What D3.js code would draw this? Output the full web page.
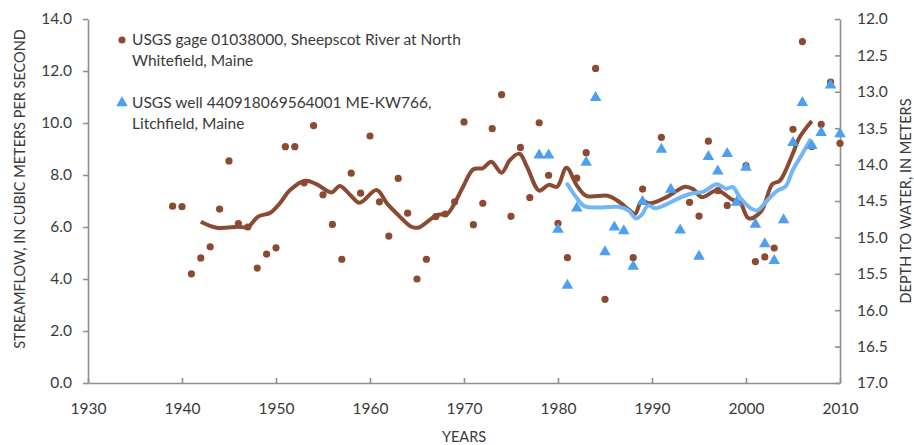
<!DOCTYPE html>
<html>
  <head>
    <script src="https://d3js.org/d3.v7.min.js"></script>
    <style>
      body { margin: 0; background: #fff; }
      text { font-family: Lato, "Open Sans", sans-serif; fill: #3a3a3a; }
      .axis path, .axis line { fill: none; stroke: #8f8f8f; stroke-width: 1.6px; }
      .axis text { font-size: 15.5px; }
      .title { font-size: 14.5px; }
      .legend { font-size: 15.5px; }
    </style>
  </head>
  <body>
    <script>
      // streamflow, USGS gage 01038000 (annual mean, m3/s)
      var flowYears = [1939, 1940, 1941, 1942, 1943, 1944, 1945, 1946, 1947, 1948, 1949, 1950,
        1951, 1952, 1953, 1954, 1955, 1956, 1957, 1958, 1959, 1960, 1961, 1962, 1963, 1964,
        1965, 1966, 1967, 1968, 1969, 1970, 1971, 1972, 1973, 1974, 1975, 1976, 1977, 1978,
        1979, 1980, 1981, 1982, 1983, 1984, 1985, 1988, 1989, 1991, 1994, 1995, 1996, 1997,
        1998, 2000, 2001, 2002, 2003, 2005, 2006, 2007, 2008, 2009, 2010];
      var flowValues = [6.8, 6.78, 4.2, 4.81, 5.24, 6.69, 8.54, 6.13, 6.0, 4.42, 4.96, 5.2,
        9.09, 9.09, 7.7, 9.9, 7.24, 6.1, 4.76, 8.07, 7.3, 9.5, 6.97, 5.65, 7.87, 6.53,
        4.0, 4.76, 6.4, 6.5, 6.97, 10.04, 6.09, 6.91, 9.78, 11.09, 6.41, 9.06, 7.13, 10.01,
        7.99, 6.14, 4.82, 7.88, 8.86, 12.1, 3.22, 4.82, 7.46, 9.45, 6.95, 6.42, 9.3, 7.4,
        6.83, 8.36, 4.67, 4.85, 5.19, 9.76, 13.13, 9.1, 9.95, 11.57, 9.22];

      // depth to water, USGS well 440918069564001 (m)
      var wellYears = [1978, 1979, 1980, 1981, 1982, 1983, 1984, 1985, 1986, 1987, 1988, 1989,
        1991, 1992, 1993, 1995, 1996, 1997, 1998, 1999, 2000, 2001, 2002, 2003, 2004, 2005,
        2006, 2007, 2008, 2009, 2010];
      var wellValues = [13.87, 13.87, 14.89, 15.66, 14.6, 13.97, 13.08, 15.2, 14.86, 14.91, 15.4, 14.51,
        13.79, 14.34, 14.9, 15.26, 13.89, 14.09, 13.85, 14.52, 14.04, 14.82, 15.09, 15.32, 14.76, 13.7,
        13.15, 13.74, 13.56, 12.91, 13.58];

      // smoothed curves
      var flowSmoothYears = [1942.0, 1943.7, 1946.0, 1947.0, 1948.1, 1949.4, 1950.4, 1951.5, 1953.1,
        1954.3, 1955.9, 1956.8, 1957.9, 1958.9, 1960.7, 1961.8, 1963.0, 1964.4, 1965.2, 1967.1,
        1968.2, 1969.0, 1969.9, 1971.0, 1972.0, 1972.9, 1974.0, 1974.9, 1975.9, 1976.7, 1978.0,
        1979.0, 1979.9, 1980.9, 1982.0, 1983.0, 1985.3, 1986.3, 1987.7, 1988.2, 1988.9, 1989.8,
        1991.6, 1993.5, 1994.4, 1995.3, 1996.9, 1998.5, 1999.4, 2000.3, 2001.6, 2002.8, 2003.6,
        2004.9, 2005.7, 2007.0];
      var flowSmoothValues = [6.2, 5.97, 6.01, 6.0, 6.4, 6.55, 6.91, 7.42, 7.78,
        7.65, 7.33, 7.58, 7.23, 6.93, 7.42, 6.91, 6.46, 6.01, 5.98, 6.46,
        6.5, 6.91, 7.55, 8.22, 8.26, 8.51, 8.09, 8.58, 8.82, 8.32, 7.4,
        7.62, 7.55, 8.28, 7.6, 7.2, 7.2, 7.02, 6.62, 6.5, 7.0, 6.91,
        7.16, 7.55, 7.45, 7.15, 7.4, 7.06, 6.91, 6.33, 6.6, 7.65, 7.78,
        8.75, 9.45, 10.08];
      var wellSmoothYears = [1980.9, 1982.0, 1982.8, 1984.6, 1986.4, 1987.5, 1988.3, 1988.9, 1989.6,
        1990.3, 1991.3, 1992.7, 1994.1, 1995.5, 1996.9, 1997.9, 1998.6, 1999.4, 2000.5, 2001.2,
        2002.2, 2003.3, 2004.2, 2005.0, 2006.0, 2006.9];
      var wellSmoothValues = [14.25, 14.46, 14.57, 14.59, 14.58, 14.63, 14.74, 14.69, 14.56,
        14.6, 14.56, 14.47, 14.4, 14.37, 14.27, 14.33, 14.31, 14.46, 14.6, 14.63,
        14.5, 14.36, 14.3, 14.07, 13.85, 13.65];

      var xTicks = [1930, 1940, 1950, 1960, 1970, 1980, 1990, 2000, 2010];
      var flowTicks = [0, 2, 4, 6, 8, 10, 12, 14];
      var depthTicks = [12, 12.5, 13, 13.5, 14, 14.5, 15, 15.5, 16, 16.5, 17];

      var brown = "#8b4a32", blue = "#4d9ff0", blueLine = "#72b6f6";

      var margin = { top: 19, right: 74, bottom: 62, left: 88 },
        width = 914 - margin.left - margin.right,
        height = 445 - margin.top - margin.bottom;

      var svg = d3.select("body").append("svg")
        .attr("width", 914)
        .attr("height", 445);
      var g = svg.append("g")
        .attr("transform", "translate(" + margin.left + "," + margin.top + ")");

      var x = d3.scaleLinear().domain([1930, 2010]).range([0, width]);
      var y = d3.scaleLinear().domain([0, 14]).range([height, 0]);
      var y2 = d3.scaleLinear().domain([12, 17]).range([0, height]);

      // axes
      g.append("g").attr("class", "axis")
        .call(d3.axisLeft(y).tickValues(flowTicks).tickFormat(d3.format(".1f"))
          .tickSizeInner(5).tickSizeOuter(0).tickPadding(11));
      g.append("g").attr("class", "axis")
        .attr("transform", "translate(0," + height + ")")
        .call(d3.axisBottom(x).tickValues(xTicks).tickFormat(d3.format("d"))
          .tickSizeInner(-5).tickSizeOuter(0).tickPadding(20));
      g.append("g").attr("class", "axis")
        .attr("transform", "translate(" + width + ",0)")
        .call(d3.axisRight(y2).tickValues(depthTicks).tickFormat(d3.format(".1f"))
          .tickSizeInner(-5).tickSizeOuter(0).tickPadding(17));

      // axis titles
      svg.append("text").attr("class", "title")
        .attr("transform", "translate(25,189) rotate(-90)")
        .attr("text-anchor", "middle")
        .text("STREAMFLOW, IN CUBIC METERS PER SECOND");
      svg.append("text").attr("class", "title")
        .attr("transform", "translate(911,201) rotate(-90)")
        .attr("text-anchor", "middle")
        .text("DEPTH TO WATER, IN METERS");
      svg.append("text").attr("class", "title")
        .attr("x", margin.left + width / 2).attr("y", 442)
        .attr("text-anchor", "middle")
        .text("YEARS");

      // smoothed lines
      var flowLine = d3.line()
        .x(function(d) { return x(d[0]); })
        .y(function(d) { return y(d[1]); })
        .curve(d3.curveCatmullRom);
      var wellLine = d3.line()
        .x(function(d) { return x(d[0]); })
        .y(function(d) { return y2(d[1]); })
        .curve(d3.curveCatmullRom);

      g.append("path")
        .datum(d3.zip(flowSmoothYears, flowSmoothValues))
        .attr("fill", "none").attr("stroke", brown).attr("stroke-width", 4)
        .attr("d", flowLine);
      g.append("path")
        .datum(d3.zip(wellSmoothYears, wellSmoothValues))
        .attr("fill", "none").attr("stroke", blueLine).attr("stroke-width", 4)
        .attr("d", wellLine);

      // points
      g.selectAll(".flow")
        .data(d3.zip(flowYears, flowValues))
        .enter().append("circle")
        .attr("class", "flow")
        .attr("cx", function(d) { return x(d[0]); })
        .attr("cy", function(d) { return y(d[1]); })
        .attr("r", 3.6)
        .attr("fill", brown);

      var tri = d3.symbol().type(d3.symbolTriangle).size(58);
      g.selectAll(".well")
        .data(d3.zip(wellYears, wellValues))
        .enter().append("path")
        .attr("class", "well")
        .attr("transform", function(d) { return "translate(" + x(d[0]) + "," + y2(d[1]) + ")"; })
        .attr("d", tri)
        .attr("fill", blue);

      // legend
      var leg = svg.append("g").attr("class", "legend");
      leg.append("circle").attr("cx", 122).attr("cy", 40).attr("r", 3.6).attr("fill", brown);
      leg.append("text").attr("x", 132).attr("y", 45).text("USGS gage 01038000, Sheepscot River at North");
      leg.append("text").attr("x", 132).attr("y", 66).text("Whitefield, Maine");
      leg.append("path").attr("transform", "translate(122,103)").attr("d", tri).attr("fill", blue);
      leg.append("text").attr("x", 132).attr("y", 108).text("USGS well 440918069564001 ME-KW766,");
      leg.append("text").attr("x", 132).attr("y", 129).text("Litchfield, Maine");
    </script>
  </body>
</html>
